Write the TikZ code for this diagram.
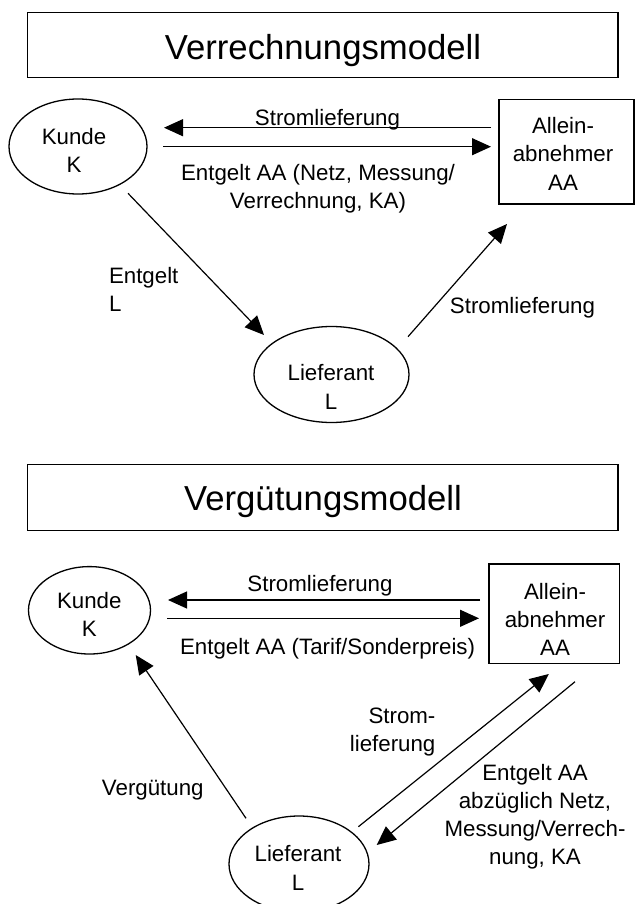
\documentclass[tikz,border=0pt]{standalone}
\usepackage{fontspec}
\setmainfont{Liberation Sans}
\usetikzlibrary{arrows.meta,shapes.geometric}
% fixed-height strut so that the first baseline of a block lies 21pt below its top
\newcommand\firstline{\rule{0pt}{21pt}}
\begin{document}
\begin{tikzpicture}[x=1pt,y=-1pt,
  txt/.style={font=\fontsize{22.3}{28.3}\selectfont, inner sep=0pt, outer sep=0pt},
  ttl/.style={font=\fontsize{34.7}{40}\selectfont, inner sep=0pt, outer sep=0pt},
  frame/.style={draw, line width=1.3pt, rectangle, inner sep=0pt},
  oval/.style={draw, line width=1.3pt, ellipse, inner sep=0pt},
  flow/.style={line width=1.2pt, -{Triangle[length=19pt,width=17pt]}}]
\useasboundingbox (0,0) rectangle (635,904);
\clip (0,0) rectangle (635,904);

% ---------------- Verrechnungsmodell ----------------
\node[frame, minimum width=590.5pt, minimum height=64.8pt] (title1) at (322.75,45.1) {};
\node[ttl, anchor=base] (title1txt) at (323,60) {Verrechnungsmodell};

\node[oval, minimum width=138pt, minimum height=95pt] (kunde1) at (78,146.5) {};
\node[txt, anchor=north, align=center] (kunde1txt) at (74,123.5) {\firstline Kunde\\K};

\node[frame, minimum width=135pt, minimum height=104.7pt] (aa1) at (566.5,151.65) {};
\node[txt, anchor=north, align=center] (aa1txt) at (563,112.5) {\firstline Allein-\\abnehmer\\AA};

\node[oval, minimum width=155pt, minimum height=96pt] (lief1) at (331.5,374.5) {};
\node[txt, anchor=north, align=center] (lief1txt) at (331,359.7) {\firstline Lieferant\\L};

\coordinate (s1a) at (491,127.7);
\coordinate (s1b) at (164,127.7);
\coordinate (e1a) at (163,146.7);
\coordinate (e1b) at (491,146.7);
\coordinate (kl1a) at (128,193.3);
\coordinate (kl1b) at (264,335);
\coordinate (la1a) at (408,336.7);
\coordinate (la1b) at (507,224);

\draw[flow] (s1a) -- (s1b);
\draw[flow] (e1a) -- (e1b);
\draw[flow] (kl1a) -- (kl1b);
\draw[flow] (la1a) -- (la1b);

\node[txt, anchor=base] (s1lbl) at (327.5,125.5) {Stromlieferung};
\node[txt, anchor=north, align=center] (e1lbl) at (318,159) {\firstline Entgelt AA (Netz, Messung/\\Verrechnung, KA)};
\node[txt, anchor=north west, align=left] (kl1lbl) at (109,262.3) {\firstline Entgelt\\L};
\node[txt, anchor=base] (la1lbl) at (522.5,313.3) {Stromlieferung};

% ---------------- Vergütungsmodell ----------------
\node[frame, minimum width=590.5pt, minimum height=66pt] (title2) at (322.75,497.5) {};
\node[ttl, anchor=base] (title2txt) at (323,510) {Vergütungsmodell};

\node[oval, minimum width=122pt, minimum height=87.4pt] (kunde2) at (89.5,610.3) {};
\node[txt, anchor=north, align=center] (kunde2txt) at (89.3,587.3) {\firstline Kunde\\K};

\node[frame, minimum width=130.7pt, minimum height=99.3pt] (aa2) at (554.35,613.65) {};
\node[txt, anchor=north, align=center] (aa2txt) at (555,578.3) {\firstline Allein-\\abnehmer\\AA};

\node[oval, minimum width=140pt, minimum height=96pt] (lief2) at (299,864) {};
\node[txt, anchor=north, align=center] (lief2txt) at (298,840.7) {\firstline Lieferant\\L};

\coordinate (s2a) at (480,600);
\coordinate (s2b) at (168,600);
\coordinate (e2a) at (167,618.3);
\coordinate (e2b) at (479,618.3);
\coordinate (v2a) at (246,818.3);
\coordinate (v2b) at (135.7,655);
\coordinate (la2a) at (358.4,826.7);
\coordinate (la2b) at (548.8,674);
\coordinate (al2a) at (575,681.7);
\coordinate (al2b) at (376.7,845);

\draw[flow] (s2a) -- (s2b);
\draw[flow] (e2a) -- (e2b);
\draw[flow] (v2a) -- (v2b);
\draw[flow] (la2a) -- (la2b);
\draw[flow] (al2a) -- (al2b);

\node[txt, anchor=base] (s2lbl) at (320,591.7) {Stromlieferung};
\node[txt, anchor=base] (e2lbl) at (327.6,654) {Entgelt AA (Tarif/Sonderpreis)};
\node[txt, anchor=base] (v2lbl) at (152.8,795) {Vergütung};
\node[txt, anchor=north east, align=right] (la2lbl) at (435.4,702.3) {\firstline Strom-\\lieferung};
\node[txt, anchor=north, align=center] (al2lbl) at (535,759) {\firstline Entgelt AA\\abzüglich Netz,\\Messung/Verrech-\\nung, KA};
\end{tikzpicture}
\end{document}
